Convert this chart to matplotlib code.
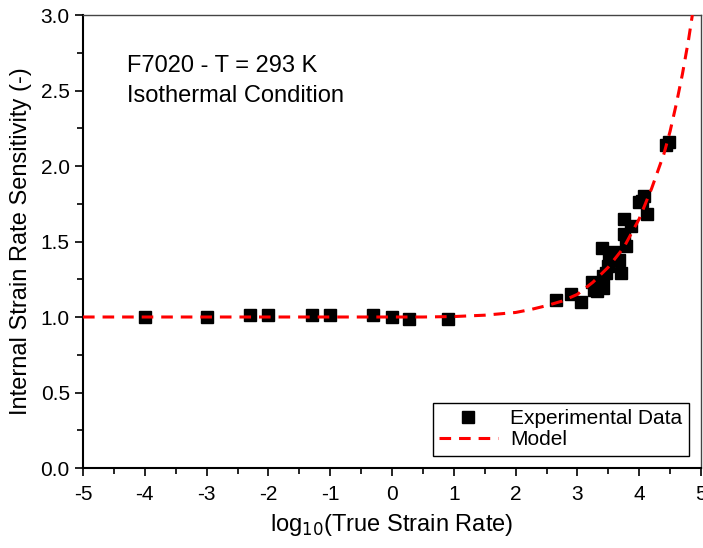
#!/usr/bin/env python3

import numpy as np
from matplotlib import pyplot as plt
from matplotlib.ticker import MultipleLocator

plt.rcParams["font.family"] = ["Liberation Sans", "DejaVu Sans"]

# Experimental data (log10 strain rate, internal strain rate sensitivity)
exp_x = [-4.0, -3.0, -2.3, -2.0, -1.3, -1.0, -0.3, 0.0, 0.28, 0.91,
         2.65, 2.90, 3.06, 3.24, 3.27, 3.32, 3.41, 3.41, 3.46, 3.49,
         3.39, 3.51, 3.59, 3.68, 3.70, 3.76, 3.76, 3.79, 3.86, 3.99,
         4.05, 4.08, 4.13, 4.43, 4.48]
exp_y = [1.00, 1.00, 1.01, 1.01, 1.01, 1.01, 1.01, 1.00, 0.99, 0.99,
         1.11, 1.15, 1.10, 1.23, 1.18, 1.17, 1.19, 1.27, 1.29, 1.34,
         1.46, 1.38, 1.43, 1.38, 1.29, 1.55, 1.65, 1.47, 1.60, 1.76,
         1.77, 1.80, 1.68, 2.14, 2.16]

# Model curve
model_x = [-5.0, -4.0, -3.0, -2.0, -1.0, 0.0, 0.5, 1.0, 1.5, 2.0, 2.25,
           2.5, 2.75, 3.0, 3.25, 3.5, 3.75, 4.0, 4.2, 4.4, 4.5, 4.6,
           4.7, 4.8, 4.86]
model_y = [1.0, 1.0, 1.0, 1.0, 1.0, 1.0, 1.0, 1.003, 1.012, 1.03, 1.05,
           1.075, 1.105, 1.15, 1.23, 1.33, 1.46, 1.65, 1.85, 2.08, 2.23,
           2.41, 2.61, 2.84, 3.0]

fig = plt.figure(figsize=(7.03, 5.48), dpi=100)
ax = fig.add_axes([83 / 703, 80 / 548, 618 / 703, 453 / 548])

ax.plot(exp_x, exp_y, "s", color="black", markersize=8,
        label="Experimental Data", zorder=3)
ax.plot(model_x, model_y, "--", color="red", lw=2.2, dashes=(3.8, 2.6),
        label="Model", zorder=4)

ax.set_xlim(-5, 5)
ax.set_ylim(0, 3.0)
ax.xaxis.set_major_locator(MultipleLocator(1))
ax.xaxis.set_minor_locator(MultipleLocator(0.5))
ax.yaxis.set_major_locator(MultipleLocator(0.5))
ax.yaxis.set_minor_locator(MultipleLocator(0.25))
ax.xaxis.set_major_formatter(plt.FuncFormatter(lambda v, p: "%d" % v))
ax.yaxis.set_major_formatter(plt.FuncFormatter(lambda v, p: "%.1f" % v))
ax.tick_params(which="major", direction="out", length=6, width=1.2,
               labelsize=15, top=False, right=False)
ax.tick_params(axis="x", which="major", pad=6)
ax.tick_params(which="minor", direction="out", length=4, width=1.2,
               top=False, right=False)

for side in ["left", "bottom"]:
    ax.spines[side].set_linewidth(1.5)
for side in ["top", "right"]:
    ax.spines[side].set_linewidth(1.0)
    ax.spines[side].set_color("#444444")

ax.set_xlabel(r"log$_{10}$(True Strain Rate)", fontsize=17, labelpad=6)
ax.set_ylabel("Internal Strain Rate Sensitivity (-)", fontsize=17,
              labelpad=6)

ax.text(0.071, 0.912, "F7020 - T = 293 K\nIsothermal Condition",
        transform=ax.transAxes, fontsize=17, va="top", ha="left",
        linespacing=1.45)

leg = ax.legend(loc="lower right", fontsize=15, frameon=True, fancybox=False,
                edgecolor="black", framealpha=1, borderpad=0.3,
                labelspacing=0.1, handlelength=2.8, handletextpad=0.6,
                borderaxespad=0.6, numpoints=1)
leg.get_frame().set_linewidth(1.0)

plt.savefig("out.png", dpi=100)
